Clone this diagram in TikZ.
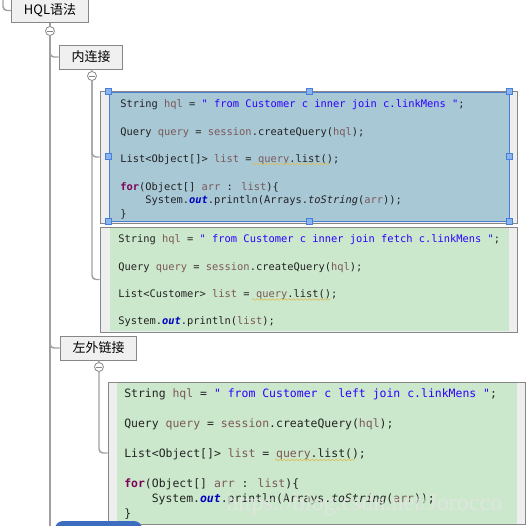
\documentclass[tikz,border=0pt]{standalone}
\usepackage{fontspec}
\usetikzlibrary{fit,decorations.pathmorphing}
\newfontfamily\cjk{Noto Sans CJK SC}
\newfontfamily\codefont{DejaVu Sans Mono}
\newfontfamily\markfont{Liberation Serif}
\definecolor{treegray}{HTML}{A0A0A0}
\definecolor{boxgray}{HTML}{878787}
\definecolor{topicfill}{HTML}{F0F0F0}
\definecolor{framefill}{HTML}{EEEEEE}
\definecolor{selblue}{HTML}{4A7FD8}
\definecolor{selfill}{HTML}{A8C8D6}
\definecolor{handlefill}{HTML}{8AB4F0}
\definecolor{snipgreen}{HTML}{CCE8CC}
\definecolor{codeblack}{HTML}{222222}
\definecolor{codevar}{HTML}{7A5858}
\definecolor{codestr}{HTML}{2A00FF}
\definecolor{codekey}{HTML}{7F0055}
\definecolor{codefld}{HTML}{0000C0}
\definecolor{squigcol}{HTML}{D8C060}
\definecolor{pillblue}{HTML}{3D6CC0}
\newcommand{\hvar}[1]{\textcolor{codevar}{#1}}
\newcommand{\hstr}[1]{\textcolor{codestr}{#1}}
\newcommand{\hkey}[1]{\textcolor{codekey}{\bfseries #1}}
\newcommand{\hfld}[1]{\textcolor{codefld}{\bfseries\itshape #1}}
\begin{document}
\begin{tikzpicture}[x=0.75pt, y=-0.75pt,
      tree/.style={draw=treegray, line width=1.1pt, rounded corners=3pt},
      topic/.style={draw=boxgray, fill=topicfill, line width=0.75pt, font=\cjk\fontsize{9.75pt}{11pt}\selectfont, minimum height=18pt, inner xsep=9.3pt, inner ysep=0pt},
      toggle/.style={circle, draw=boxgray, fill=white, line width=0.6pt, minimum size=6.75pt, inner sep=0pt,
        path picture={\draw[boxgray, line width=0.6pt] ([xshift=1.4pt]path picture bounding box.west) -- ([xshift=-1.4pt]path picture bounding box.east);}},
      codeframe/.style={draw=boxgray, fill=framefill, line width=0.75pt, inner sep=0pt},
      sel/.style={draw=selblue, fill=selfill, line width=0.75pt, inner sep=0pt},
      snip/.style={fill=snipgreen, inner sep=0pt},
      handle/.style={draw=selblue, fill=handlefill, line width=0.5pt, minimum size=4.5pt, inner sep=0pt},
      codeline/.style={anchor=base west, inner sep=0pt, text=codeblack, font=\codefont\fontsize{7.8pt}{10pt}\selectfont},
      bigline/.style={codeline, font=\codefont\fontsize{8.6pt}{10pt}\selectfont},
      squiggle/.style={draw=squigcol, line width=0.5pt, decorate, decoration={snake, amplitude=0.6pt, segment length=3pt}}]
    \path[use as bounding box, clip] (0,0) rectangle (527,525);
    \fill[white] (0,0) rectangle (527,525);
    \node[topic] (hql) at (50,10.5) {HQL语法};
    \node[toggle] (t0) at (50,31) {};
    \node[topic] (inner) at (91,57) {内连接};
    \node[toggle] (t1) at (92,76) {};
    \node[topic] (left) at (98.5,348) {左外链接};
    \node[toggle] (t2) at (99,367) {};
    \coordinate (rootin) at (3,-6);
    \coordinate (rootend) at (50,530);
    \draw[tree] (rootin) |- (hql.west);
    \draw[tree] (hql) -- (t0);
    \draw[tree] (t0) -- (rootend);
    \draw[tree] (t0) |- (inner.west);
    \draw[tree] (t0) |- (left.west);
    \draw[tree] (inner) -- (t1);
    \draw[tree] (left) -- (t2);
    \node[codeframe, fit={(100,91) (517,223)}] (ca) {};
    \node[sel, fit={(109,92) (509,221)}] (sa) {};
    \foreach \a in {north west, north, north east, east, south east, south, south west, west}
      \node[handle] (h-\a) at (sa.\a) {};
    \node[codeframe, fit={(100,227) (517,332)}] (cb) {};
    \node[snip, fit={(109.5,228) (509,331)}] (sb) {};
    \node[codeframe, fit={(108,382) (525,524)}] (cc) {};
    \node[snip, fit={(117,383) (517,523.5)}] (sc) {};
    \draw[tree] (t1) |- (ca.west);
    \draw[tree] (t1) |- (cb.west);
    \draw[tree] (t2) |- (cc.west);
    \node[codeline] (a1) at (120,107) {String \hvar{hql} = \hstr{" from Customer c inner join c.linkMens "};};
    \node[codeline] (a2) at (120,135) {Query \hvar{query} = \hvar{session}.createQuery(\hvar{hql});};
    \node[codeline] (a3) at (120,162) {List<Object[]> \hvar{list} = \hvar{query}.list();};
    \node[codeline] (a4) at (120,190) {\hkey{for}(Object[] \hvar{arr} : \hvar{list})\{};
    \node[codeline] (a5) at (145,203) {System.\hfld{out}.println(Arrays.\textit{toString}(\hvar{arr}));};
    \node[codeline] (a6) at (120,217) {\}};
    \node[codeline] (b1) at (118,242) {String \hvar{hql} = \hstr{" from Customer c inner join fetch c.linkMens "};};
    \node[codeline] (b2) at (118,270) {Query \hvar{query} = \hvar{session}.createQuery(\hvar{hql});};
    \node[codeline] (b3) at (118,297) {List<Customer> \hvar{list} = \hvar{query}.list();};
    \node[codeline] (b4) at (118,324) {System.\hfld{out}.println(\hvar{list});};
    \node[bigline] (c1) at (124,397) {String \hvar{hql} = \hstr{" from Customer c left join c.linkMens "};};
    \node[bigline] (c2) at (124,427) {Query \hvar{query} = \hvar{session}.createQuery(\hvar{hql});};
    \node[bigline] (c3) at (124,457) {List<Object[]> \hvar{list} = \hvar{query}.list();};
    \node[bigline] (c4) at (124,487) {\hkey{for}(Object[] \hvar{arr} : \hvar{list})\{};
    \node[bigline] (c5) at (151.5,502) {System.\hfld{out}.println(Arrays.\textit{toString}(\hvar{arr}));};
    \node[bigline] (c6) at (124,517) {\}};
    \draw[squiggle] (252,164) -- (330,164);
    \draw[squiggle] (252,299.5) -- (330,299.5);
    \draw[squiggle] (275,460) -- (355,460);
    \node[anchor=west, inner sep=0pt, text=white!80!gray, text opacity=0.75, font=\markfont\fontsize{18pt}{20pt}\selectfont] (mark) at (226,505) {https://blog.csdn.net/Jorocco};
    \node[fill=pillblue, rounded corners=6pt, inner sep=0pt, fit={(55,521) (142,536)}] (nextpill) {};
  \end{tikzpicture}
\end{document}
